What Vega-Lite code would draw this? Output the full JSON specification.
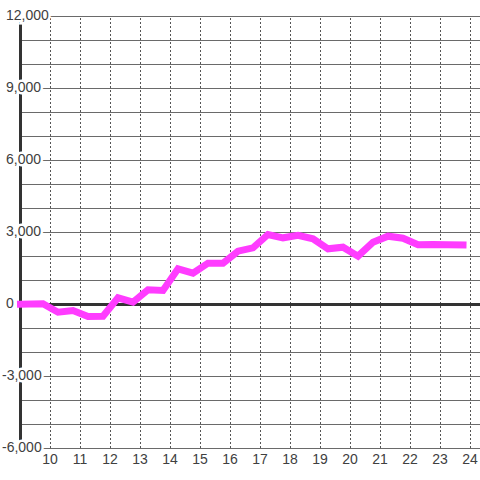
{
  "$schema": "https://vega.github.io/schema/vega-lite/v6.json",
  "width": 460,
  "height": 432,
  "autosize": "none",
  "padding": {"left": 20, "top": 16, "right": 0, "bottom": 32},
  "background": "white",
  "config": {
    "view": {"stroke": null},
    "font": "Liberation Sans"
  },
  "datasets": {
    "series": [
      {"t": 9.0, "v": 10},
      {"t": 9.75, "v": 30},
      {"t": 10.25, "v": -320},
      {"t": 10.75, "v": -250},
      {"t": 11.25, "v": -500},
      {"t": 11.75, "v": -486},
      {"t": 12.25, "v": 278},
      {"t": 12.75, "v": 97},
      {"t": 13.25, "v": 611},
      {"t": 13.75, "v": 583},
      {"t": 14.25, "v": 1486},
      {"t": 14.75, "v": 1306},
      {"t": 15.25, "v": 1722},
      {"t": 15.75, "v": 1722},
      {"t": 16.25, "v": 2222},
      {"t": 16.75, "v": 2361},
      {"t": 17.25, "v": 2917},
      {"t": 17.75, "v": 2778},
      {"t": 18.25, "v": 2880},
      {"t": 18.75, "v": 2736},
      {"t": 19.25, "v": 2320},
      {"t": 19.75, "v": 2389},
      {"t": 20.25, "v": 2014},
      {"t": 20.75, "v": 2597},
      {"t": 21.25, "v": 2847},
      {"t": 21.75, "v": 2760},
      {"t": 22.25, "v": 2490},
      {"t": 22.75, "v": 2500},
      {"t": 23.25, "v": 2490},
      {"t": 23.75, "v": 2480}
    ],
    "ylabels": [
      {"v": -6000, "s": "-6,000"},
      {"v": -3000, "s": "-3,000"},
      {"v": 0, "s": "0"},
      {"v": 3000, "s": "3,000"},
      {"v": 6000, "s": "6,000"},
      {"v": 9000, "s": "9,000"},
      {"v": 12000, "s": "12,000"}
    ],
    "ygrid": [
      {"g": -6000}, {"g": -5000}, {"g": -4000}, {"g": -3000}, {"g": -2000}, {"g": -1000},
      {"g": 1000}, {"g": 2000}, {"g": 3000}, {"g": 4000}, {"g": 5000}, {"g": 6000},
      {"g": 7000}, {"g": 8000}, {"g": 9000}, {"g": 10000}, {"g": 11000}, {"g": 12000}
    ],
    "xgrid": [
      {"g": 10}, {"g": 11}, {"g": 12}, {"g": 13}, {"g": 14}, {"g": 15}, {"g": 16}, {"g": 17},
      {"g": 18}, {"g": 19}, {"g": 20}, {"g": 21}, {"g": 22}, {"g": 23}, {"g": 24}
    ]
  },
  "layer": [
    {
      "data": {"name": "xgrid"},
      "mark": {"type": "rule", "color": "#555555", "strokeWidth": 1, "strokeDash": [2, 2], "xOffset": 0.5},
      "encoding": {
        "x": {
          "field": "g",
          "type": "quantitative",
          "scale": {"domain": [9, 24.333], "nice": false, "zero": false},
          "axis": null
        },
        "y": {
          "datum": -6000,
          "type": "quantitative",
          "scale": {"domain": [-6000, 12000], "nice": false, "zero": false},
          "axis": null
        },
        "y2": {"datum": 12000}
      }
    },
    {
      "data": {"name": "xgrid"},
      "mark": {
        "type": "text",
        "align": "center",
        "baseline": "top",
        "dy": 5,
        "fontSize": 14,
        "font": "Liberation Sans",
        "fill": "#404040"
      },
      "encoding": {
        "x": {"field": "g", "type": "quantitative"},
        "y": {"datum": -6000, "type": "quantitative"},
        "text": {"field": "g", "type": "quantitative", "format": "d"}
      }
    },
    {
      "data": {"name": "ygrid"},
      "mark": {"type": "rule", "color": "#6a6a6a", "strokeWidth": 1, "yOffset": 0.5},
      "encoding": {
        "x": {"datum": 9, "type": "quantitative"},
        "x2": {"datum": 24.333},
        "y": {"field": "g", "type": "quantitative"}
      }
    },
    {
      "data": {"name": "series"},
      "mark": {"type": "rule", "color": "#333333", "strokeWidth": 3, "xOffset": 0.5},
      "encoding": {
        "x": {"datum": 9, "type": "quantitative"},
        "y": {"datum": -6000, "type": "quantitative"},
        "y2": {"datum": 12000}
      }
    },
    {
      "data": {"name": "series"},
      "mark": {"type": "rule", "color": "#333333", "strokeWidth": 3, "yOffset": 0.5},
      "encoding": {
        "x": {"datum": 9, "type": "quantitative"},
        "x2": {"datum": 24.333},
        "y": {"datum": 0, "type": "quantitative"}
      }
    },
    {
      "data": {"name": "ylabels"},
      "transform": [{"filter": "datum.v >= 0"}],
      "mark": {
        "type": "text",
        "align": "left",
        "baseline": "middle",
        "dx": -14,
        "fontSize": 14,
        "font": "Liberation Sans",
        "fill": "white",
        "stroke": "white",
        "strokeWidth": 5
      },
      "encoding": {
        "x": {"datum": 9, "type": "quantitative"},
        "y": {"field": "v", "type": "quantitative"},
        "text": {"field": "s"}
      }
    },
    {
      "data": {"name": "ylabels"},
      "transform": [{"filter": "datum.v < 0"}],
      "mark": {
        "type": "text",
        "align": "left",
        "baseline": "middle",
        "dx": -18,
        "fontSize": 14,
        "font": "Liberation Sans",
        "fill": "white",
        "stroke": "white",
        "strokeWidth": 5
      },
      "encoding": {
        "x": {"datum": 9, "type": "quantitative"},
        "y": {"field": "v", "type": "quantitative"},
        "text": {"field": "s"}
      }
    },
    {
      "data": {"name": "ylabels"},
      "transform": [{"filter": "datum.v >= 0"}],
      "mark": {
        "type": "text",
        "align": "left",
        "baseline": "middle",
        "dx": -14,
        "fontSize": 14,
        "font": "Liberation Sans",
        "fill": "#404040"
      },
      "encoding": {
        "x": {"datum": 9, "type": "quantitative"},
        "y": {"field": "v", "type": "quantitative"},
        "text": {"field": "s"}
      }
    },
    {
      "data": {"name": "ylabels"},
      "transform": [{"filter": "datum.v < 0"}],
      "mark": {
        "type": "text",
        "align": "left",
        "baseline": "middle",
        "dx": -18,
        "fontSize": 14,
        "font": "Liberation Sans",
        "fill": "#404040"
      },
      "encoding": {
        "x": {"datum": 9, "type": "quantitative"},
        "y": {"field": "v", "type": "quantitative"},
        "text": {"field": "s"}
      }
    },
    {
      "data": {"name": "series"},
      "mark": {
        "type": "line",
        "color": "#ff3cff",
        "strokeWidth": 7,
        "strokeCap": "square",
        "strokeJoin": "miter",
        "yOffset": 0.5,
        "xOffset": 0.5
      },
      "encoding": {
        "x": {"field": "t", "type": "quantitative"},
        "y": {"field": "v", "type": "quantitative"}
      }
    }
  ]
}
